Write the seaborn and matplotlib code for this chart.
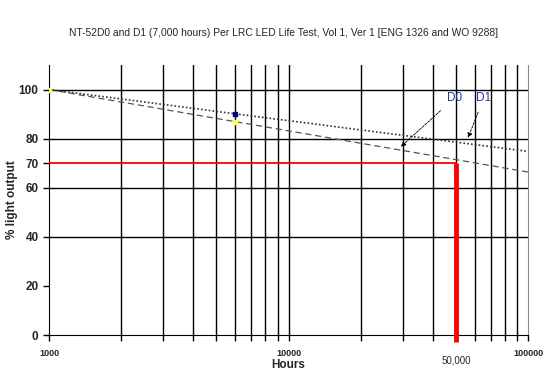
import matplotlib
matplotlib.use("Agg")
import matplotlib.pyplot as plt
import seaborn as sns
import pandas as pd
import numpy as np

# Data
hours = [1000, 6000, 100000]
d0_output = [100, 86.9, 66.4]
d1_output = [100, 90.1, 74.8]
measured_hours = [1000, 6000]
d0_measured = [100, 86.9]
d1_measured = [100, 90.1]
target_pct = 70
target_hours = 50000
y_ticks = [0, 20, 40, 60, 70, 80, 100]
y_grid = [40, 60, 80, 100]

sns.set_style("white")
plt.rcParams['font.family'] = ['Liberation Sans', 'DejaVu Sans']

df = pd.DataFrame({"Hours": hours + hours,
                   "Output": d0_output + d1_output,
                   "Series": ["D0"] * 3 + ["D1"] * 3})

fig = plt.figure(figsize=(5.46, 3.76), dpi=100)
ax = fig.add_axes([49 / 546, 41 / 376, 479 / 546, 270 / 376])
ax.set_xscale("log")
ax.set_xlim(1000, 100000)
ax.set_ylim(0, 110)

# vertical log grid
for dec in [1000, 10000]:
    for m in range(1, 10):
        v = dec * m
        if v > 1000:
            ax.axvline(v, color="black", lw=1, zorder=1)
for v in y_grid:
    ax.axhline(v, color="black", lw=1, zorder=1)

sns.lineplot(data=df[df.Series == "D0"], x="Hours", y="Output", ax=ax,
             color="#555555", lw=0.9, linestyle=(0, (5, 3)), zorder=3, legend=False)
sns.lineplot(data=df[df.Series == "D1"], x="Hours", y="Output", ax=ax,
             color="#333333", lw=1.2, linestyle=(0, (1, 1.3)), zorder=3, legend=False)

ax.scatter(measured_hours[1:], d1_measured[1:], color="navy", s=12, marker="s", zorder=5)
ax.scatter(measured_hours, d0_measured, color="#ffff66", s=8, marker="s", zorder=5)

# 70% / 50,000 hour markers
ax.plot([1000, target_hours], [target_pct, target_pct], color="red", lw=1.3, zorder=4)
ax.plot([target_hours, target_hours], [target_pct, -3], color="red", lw=3.5,
        zorder=4, clip_on=False, solid_capstyle="butt")

ax.annotate("D0", xy=(28900, 76), xytext=(49500, 96.7), fontsize=8.5,
            color="#1f3a93", ha="center", va="center",
            arrowprops=dict(arrowstyle="-|>", color="black", lw=0.6,
                            linestyle=(0, (3, 1.5)), mutation_scale=7,
                            shrinkA=4))
ax.annotate("D1", xy=(55600, 79.3), xytext=(65500, 96.7), fontsize=8.5,
            color="#1f3a93", ha="center", va="center",
            arrowprops=dict(arrowstyle="-|>", color="black", lw=0.6,
                            linestyle=(0, (3, 1.5)), mutation_scale=7,
                            shrinkA=4))

ax.set_yticks(y_ticks)
ax.set_yticklabels([str(t) for t in y_ticks], fontsize=8.5, fontweight="bold")
ax.set_xticks([1000, 10000, 100000])
ax.set_xticklabels(["1000", "10000", "100000"], fontsize=6.5, fontweight="bold")
ax.tick_params(axis="both", which="both", direction="out", length=4, width=1,
               color="black", bottom=True, left=True)
ax.tick_params(axis="x", which="major", pad=6)
ax.tick_params(axis="x", which="minor", labelbottom=False)

ax.text(target_hours, -8.5, "50,000", fontsize=7, ha="center", va="top")

ax.set_xlabel("Hours", fontsize=8.5, fontweight="bold", labelpad=1)
ax.set_ylabel("% light output", fontsize=8.5, fontweight="bold", va="center")
ax.yaxis.set_label_coords(-0.077, 0.5)

ax.spines["top"].set_visible(False)
ax.spines["right"].set_color("#888888")
ax.spines["left"].set_color("black")
ax.spines["bottom"].set_color("black")

fig.text(0.52, 0.912, "NT-52D0 and D1 (7,000 hours) Per LRC LED Life Test, Vol 1, Ver 1 [ENG 1326 and WO 9288]",
         fontsize=7.4, ha="center", va="center")

fig.savefig("out.png", dpi=100)
